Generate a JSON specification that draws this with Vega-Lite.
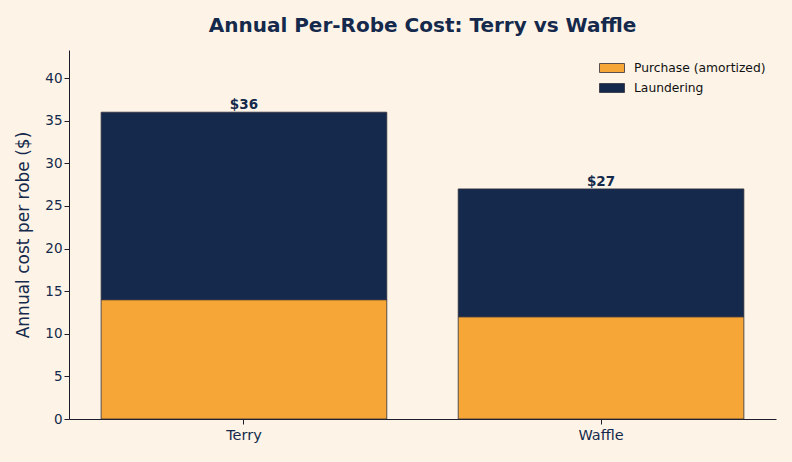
{
  "$schema": "https://vega.github.io/schema/vega-lite/v6.json",
  "width": 707,
  "height": 369,
  "autosize": {"type": "none"},
  "padding": {"left": 69, "top": 50, "right": 16, "bottom": 43},
  "background": "#fdf4e7",
  "title": {
    "text": "Annual Per-Robe Cost: Terry vs Waffle",
    "font": "DejaVu Sans",
    "fontSize": 20,
    "fontWeight": "bold",
    "color": "#14294b",
    "anchor": "middle",
    "offset": 14
  },
  "config": {
    "view": {"stroke": null},
    "font": "DejaVu Sans",
    "axis": {
      "labelFont": "DejaVu Sans",
      "titleFont": "DejaVu Sans",
      "labelColor": "#14294b",
      "titleColor": "#14294b",
      "domainColor": "#1c1c2c",
      "tickColor": "#1c1c2c",
      "grid": false,
      "titleFontWeight": "normal",
      "tickSize": 5
    }
  },
  "data": {
    "values": [
      {"material": "Terry", "component": "Purchase (amortized)", "rank": 1, "cost": 14},
      {"material": "Terry", "component": "Laundering", "rank": 2, "cost": 22},
      {"material": "Waffle", "component": "Purchase (amortized)", "rank": 1, "cost": 12},
      {"material": "Waffle", "component": "Laundering", "rank": 2, "cost": 15}
    ]
  },
  "encoding": {
    "x": {
      "field": "material",
      "type": "nominal",
      "sort": ["Terry", "Waffle"],
      "scale": {"paddingInner": 0.2, "paddingOuter": 0.09},
      "axis": {"title": null, "labelAngle": 0, "labelPadding": 4, "labelFontSize": 14.5}
    }
  },
  "layer": [
    {
      "mark": {"type": "bar", "stroke": "#2e2e3e", "strokeWidth": 0.8},
      "encoding": {
        "y": {
          "field": "cost",
          "type": "quantitative",
          "stack": "zero",
          "scale": {"domain": [0, 43.3], "nice": false},
          "axis": {
            "title": "Annual cost per robe ($)",
            "values": [0, 5, 10, 15, 20, 25, 30, 35, 40],
            "labelFontSize": 13.5,
            "titleFontSize": 17,
            "titlePadding": 12
          }
        },
        "order": {"field": "rank", "type": "quantitative", "sort": "ascending"},
        "color": {
          "field": "component",
          "type": "nominal",
          "scale": {
            "domain": ["Purchase (amortized)", "Laundering"],
            "range": ["#f5a636", "#14294b"]
          },
          "legend": {
            "title": null,
            "orient": "none",
            "legendX": 530,
            "legendY": 5,
            "symbolType": "M-1,-0.36L1,-0.36L1,0.36L-1,0.36Z",
            "symbolSize": 625,
            "symbolStrokeColor": "#2e2e3e",
            "symbolStrokeWidth": 0.8,
            "symbolOpacity": 1,
            "labelFont": "DejaVu Sans",
            "labelFontSize": 12.3,
            "labelColor": "#111111",
            "labelOffset": 9,
            "rowPadding": -4
          }
        }
      }
    },
    {
      "transform": [
        {"aggregate": [{"op": "sum", "field": "cost", "as": "total"}], "groupby": ["material"]}
      ],
      "mark": {"type": "text", "baseline": "alphabetic", "dy": -3, "fontSize": 13.5, "fontWeight": "bold", "color": "#14294b", "font": "DejaVu Sans"},
      "encoding": {
        "y": {"field": "total", "type": "quantitative"},
        "text": {"field": "total", "type": "quantitative", "format": "$,.0f"}
      }
    }
  ]
}
